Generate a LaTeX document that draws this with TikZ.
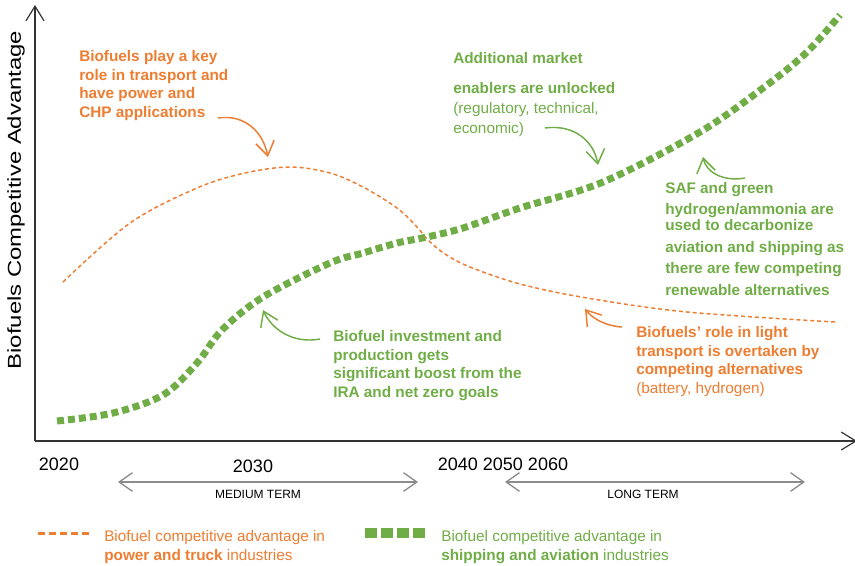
\documentclass[tikz,border=0pt]{standalone}
\usepackage{fontspec}
\setmainfont{Liberation Sans}
\usetikzlibrary{arrows.meta}
\definecolor{ornC}{HTML}{ED7D31}
\definecolor{grnC}{HTML}{70AD47}
\definecolor{termC}{HTML}{8C8C8C}

\begin{document}
\begin{tikzpicture}[x=0.75pt,y=0.75pt,yscale=-1,xscale=1,
	axisLine/.style={draw=black!80, line width=1.1pt, -{Straight Barb[length=11pt,width=13.5pt,line width=0.9pt]}},
	termArrow/.style={draw=termC, line width=1.1pt, {Straight Barb[length=10pt,width=14pt,line width=1pt]}-{Straight Barb[length=10pt,width=14pt,line width=1pt]}},
	noteArrow/.style={line width=1.1pt, -{Straight Barb[length=10.5pt,width=14pt,line width=1.1pt]}},
	ornCurve/.style={draw=ornC, line width=1.1pt, dash pattern=on 3pt off 2.2pt},
	grnCurve/.style={draw=grnC, line width=5.25pt, dash pattern=on 5.25pt off 3pt},
	noteText/.style={anchor=north west, inner sep=0pt, align=left, font=\fontsize{11.5}{14}\selectfont\bfseries},
	yearText/.style={inner sep=0pt, font=\fontsize{13.5}{16}\selectfont},
	termText/.style={inner sep=0pt, font=\fontsize{9}{11}\selectfont},
	legText/.style={anchor=north west, inner sep=0pt, align=left, font=\fontsize{11.5}{14.25}\selectfont}]
	\useasboundingbox (0,0) rectangle (855,565);

	% Axes
	\coordinate (origin) at (35,441);
	\coordinate (yTop) at (35,5);
	\coordinate (xEnd) at (857,441);
	\draw [axisLine] (origin) -- (yTop);
	\draw [axisLine] (origin) -- (xEnd);
	\node [rotate=90, inner sep=0pt, font=\fontsize{14}{16}\selectfont] (yLabel) at (16,200) {\scalebox{1.28}[1]{Biofuels Competitive Advantage}};

	% Curves
	\draw [ornCurve] plot[smooth, tension=0.55] coordinates {(63,282) (130,223) (197,188) (245,173) (290,167) (330,173) (363,187) (397,208) (417,227) (428,240) (445,254) (470,267) (520,284) (587,298) (687,312) (835,322)};
	\draw [grnCurve] plot[smooth, tension=0.55] coordinates {(57,421) (113,413) (163,395) (197,363) (222,330) (263,297) (330,263) (363,253) (397,243) (427,237) (463,228) (520,208) (603,182) (700,132) (767,85) (807,52) (840,15)};

	% Text Node
	\node [noteText, text=ornC] (txtKey) at (79,50) {Biofuels play a key\\role in transport and\\have power and\\CHP applications};
	% Text Node
	\node [noteText, text=grnC, font=\fontsize{11.5}{15}\selectfont\bfseries] (txtMarket) at (453,52) {Additional market\\[7.5pt]enablers are unlocked\\{\mdseries (regulatory, technical,}\\{\mdseries economic)}};
	% Text Node
	\node [noteText, text=grnC, font=\fontsize{11.5}{15.75}\selectfont\bfseries] (txtSaf) at (665,182) {SAF and green\\hydrogen/ammonia are\\[-3.75pt]used to decarbonize\\[0.75pt]aviation and shipping as\\there are few competing\\[0.75pt]renewable alternatives};
	% Text Node
	\node [noteText, text=grnC] (txtBoost) at (333,330) {Biofuel investment and\\production gets\\significant boost from the\\IRA and net zero goals};
	% Text Node
	\node [noteText, text=ornC] (txtLight) at (636,326) {Biofuels' role in light\\transport is overtaken by\\competing alternatives\\{\mdseries (battery, hydrogen)}};

	% Connection
	\coordinate (keyFrom) at (218,118);
	\coordinate (keyTo) at (268,157);
	\draw [noteArrow, draw=ornC] (keyFrom) .. controls (245,114) and (263,132) .. (keyTo);
	% Connection
	\coordinate (marketFrom) at (545,128);
	\coordinate (marketTo) at (598,165);
	\draw [noteArrow, draw=grnC] (marketFrom) .. controls (575,124) and (594,142) .. (marketTo);
	% Connection
	\coordinate (safFrom) at (745,178);
	\coordinate (safTo) at (703,157);
	\draw [noteArrow, draw=grnC] (safFrom) .. controls (723,182) and (706,172) .. (safTo);
	% Connection
	\coordinate (boostFrom) at (320,339);
	\coordinate (boostTo) at (263,310);
	\draw [noteArrow, draw=grnC] (boostFrom) .. controls (294,344) and (272,330) .. (boostTo);
	% Connection
	\coordinate (lightFrom) at (622,327);
	\coordinate (lightTo) at (585,309);
	\draw [noteArrow, draw=ornC] (lightFrom) .. controls (606,326) and (593,319) .. (lightTo);

	% Years
	\node [yearText] (y2020) at (59,464) {2020};
	\node [yearText] (y2030) at (253,466) {2030};
	\node [yearText] (y2040) at (503,464) {2040 2050 2060};

	% Terms
	\coordinate (midL) at (118,482);
	\coordinate (midR) at (418,482);
	\coordinate (longL) at (505,482);
	\coordinate (longR) at (805,482);
	\draw [termArrow] (midL) -- (midR);
	\draw [termArrow] (longL) -- (longR);
	\node [termText] (midTerm) at (258,494) {MEDIUM TERM};
	\node [termText] (longTerm) at (643,494) {LONG TERM};

	% Legend
	\coordinate (ornKeyL) at (38,533);
	\coordinate (ornKeyR) at (90,533);
	\draw [draw=ornC, line width=2.25pt, dash pattern=on 5.25pt off 3pt] (ornKeyL) -- (ornKeyR);
	\node [legText, text=ornC] (ornLeg) at (104,530) {Biofuel competitive advantage in\\\textbf{power and truck} industries};
	\coordinate (grnKeyL) at (365,533);
	\coordinate (grnKeyR) at (425,533);
	\draw [draw=grnC, line width=8pt, dash pattern=on 9pt off 3pt] (grnKeyL) -- (grnKeyR);
	\node [legText, text=grnC] (grnLeg) at (441,530) {Biofuel competitive advantage in\\\textbf{shipping and aviation} industries};

\end{tikzpicture}
\end{document}
